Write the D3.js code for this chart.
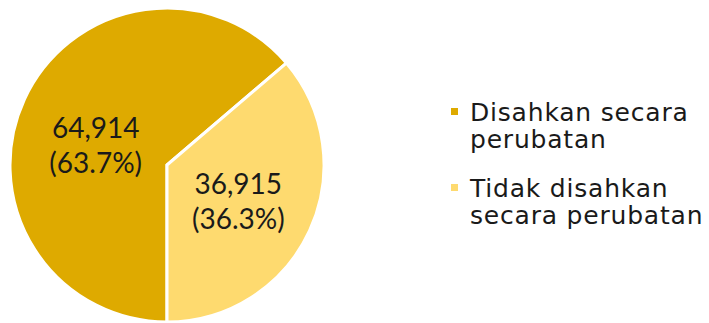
<!DOCTYPE html>
<html><head><meta charset="utf-8">
<script src="https://cdn.jsdelivr.net/npm/d3@7"></script>
<style>html,body{margin:0;padding:0;background:#fff;}svg{display:block;}</style>
</head><body>
<svg id="chart" width="709" height="323"></svg>
<script>
const categories = ["Disahkan secara perubatan", "Tidak disahkan secara perubatan"];
const legendLines = [["Disahkan secara", "perubatan"], ["Tidak disahkan", "secara perubatan"]];
const values = [64914, 36915];
const colors = ["#DEAA00", "#FEDA6F"];

const svg = d3.select("#chart");
const cx = 167, cy = 165, R = 157;
const labelFont = "'Century Gothic', 'Lato', sans-serif";
const legendFont = "'Century Gothic', 'DejaVu Sans', sans-serif";

const total = d3.sum(values);
const pie = d3.pie().sort(null).startAngle(Math.PI).endAngle(3 * Math.PI);
const arcs = pie(values);
const arc = d3.arc().innerRadius(0).outerRadius(R);

const g = svg.append("g").attr("transform", `translate(${cx},${cy})`);
g.selectAll("path").data(arcs).join("path")
  .attr("d", arc)
  .attr("fill", (d, i) => colors[i])
  .attr("stroke", "#fff")
  .attr("stroke-width", 3)
  .attr("stroke-linejoin", "miter");

const fmtN = d3.format(",");
const fmtP = d3.format(".1%");
arcs.forEach(d => {
  const a = (d.startAngle + d.endAngle) / 2;
  const x = Math.sin(a) * R * 0.5;
  const y = -Math.cos(a) * R * 0.425 + 1;
  const lines = [fmtN(d.data), "(" + fmtP(d.data / total) + ")"];
  lines.forEach((ln, j) => {
    g.append("text")
      .attr("x", x).attr("y", y + j * 35)
      .attr("text-anchor", "middle")
      .attr("font-family", labelFont)
      .attr("font-size", 28)
      .attr("fill", "#1a1a1a")
      .text(ln);
  });
});

const lg = svg.append("g");
const legendY = [121, 197];
legendLines.forEach((lines, i) => {
  lg.append("rect").attr("x", 451).attr("y", legendY[i] - 13).attr("width", 7).attr("height", 7)
    .attr("fill", colors[i]);
  lines.forEach((ln, j) => {
    lg.append("text").attr("font-family", legendFont).attr("font-size", 25)
      .attr("letter-spacing", 0.8).attr("fill", "#1a1a1a")
      .attr("x", 470).attr("y", legendY[i] + j * 27).text(ln);
  });
});
</script>
</body></html>
